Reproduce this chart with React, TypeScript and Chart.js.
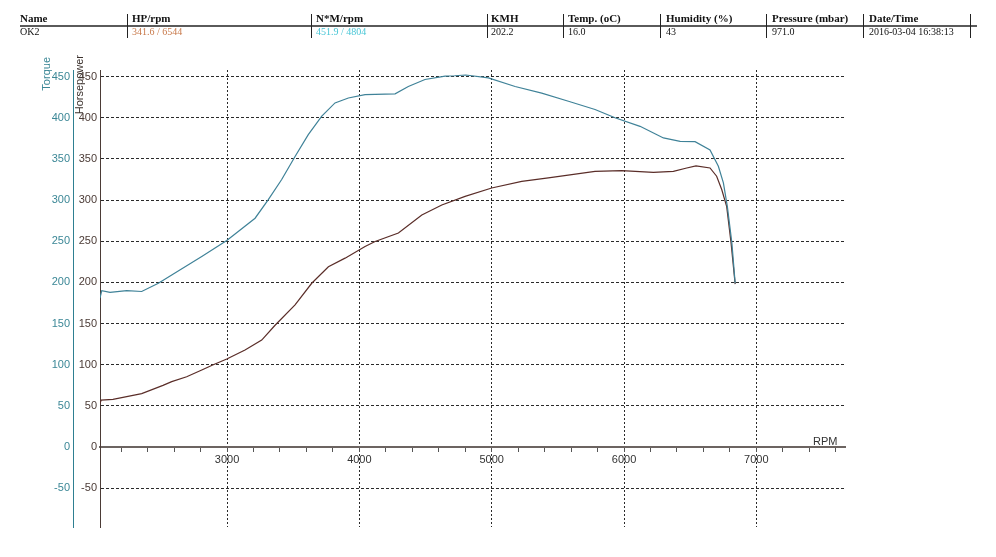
import React, { useEffect, useRef } from 'react';
import { Chart, registerables } from 'chart.js';

Chart.register(...registerables);

// ---- data ----
const RPM_TORQUE = [2040, 2053, 2116, 2242, 2355, 2481, 2582, 2809, 2998, 3212, 3312, 3413, 3514, 3614, 3716, 3816, 3917, 4043, 4270, 4370, 4496, 4648, 4720, 4804, 4975, 5177, 5378, 5580, 5781, 5932, 6121, 6298, 6424, 6537, 6650, 6713, 6751, 6781, 6815, 6840];
const TORQUE = [181, 190, 188, 190, 189, 199, 209, 231.5, 251, 278, 300.5, 325, 353, 379.5, 402, 418, 424, 428, 429, 438, 446.5, 450.5, 451, 451.9, 448.5, 438, 430, 420, 410, 400, 389.6, 375.5, 371.4, 371, 361, 341, 321, 292, 248, 199];

const RPM_HP = [2040, 2048, 2138, 2355, 2516, 2582, 2695, 2809, 2896, 2998, 3136, 3262, 3363, 3514, 3640, 3766, 3892, 4043, 4119, 4295, 4472, 4623, 4799, 5000, 5227, 5428, 5605, 5781, 5983, 6222, 6373, 6474, 6544, 6650, 6700, 6739, 6776, 6809, 6840];
const HP = [53, 57, 58, 65, 75, 79.5, 85.5, 93.7, 100, 107, 118, 130, 148, 172.7, 199, 219, 229.5, 243.7, 249.7, 260, 282, 294, 304.5, 314.7, 322.7, 327, 331, 335, 335.7, 333.7, 335, 339, 341.6, 339, 329, 312.6, 292, 248, 198];

const X_MIN = 2040;
const X_MAX = 7670;
// minor ticks every 200 rpm, labelled every 1000 rpm
const X_TICKS = [2200, 2400, 2600, 2800, 3000, 3200, 3400, 3600, 3800, 4000, 4200, 4400, 4600, 4800, 5000, 5200, 5400, 5600, 5800, 6000, 6200, 6400, 6600, 6800, 7000, 7200, 7400, 7600];
const X_LABELLED = [3000, 4000, 5000, 6000, 7000];
const Y_MIN = -97;
const Y_MAX = 458;
const Y_STEP = 50;

const HEADER_LABELS = ['Name', 'HP/rpm', 'N*M/rpm', 'KMH', 'Temp. (oC)', 'Humidity (%)', 'Pressure (mbar)', 'Date/Time'];
const HEADER_VALUES = ['OK2', '341.6 / 6544', '451.9 / 4804', '202.2', '16.0', '43', '971.0', '2016-03-04 16:38:13'];
const VALUE_COLORS = ['#111', '#c8794a', '#48c6d6', '#111', '#111', '#111', '#111', '#111'];

// layout of the header (positions only)
const COL_X = [20, 132, 316, 491, 568, 666, 772, 869];
const SEP_X = [127, 311, 487, 563, 660, 766, 863, 970];

const TORQUE_COLOR = '#3f8298';
const HP_COLOR = '#5a2d28';

const overlayPlugin = {
  id: 'overlayTexts',
  afterDraw(chart: any) {
    const { ctx, chartArea, scales } = chart;
    ctx.save();
    ctx.font = '11px "Liberation Sans", Arial, sans-serif';
    ctx.textBaseline = 'middle';
    ctx.textAlign = 'right';
    // Torque title
    ctx.save();
    ctx.fillStyle = '#3b8796';
    ctx.translate(scales.yT.right - 26, chartArea.top - 13);
    ctx.rotate(-Math.PI / 2);
    ctx.fillText('Torque', 0, 0);
    ctx.restore();
    // Horsepower title
    ctx.save();
    ctx.fillStyle = '#3a302c';
    ctx.translate(scales.yH.left + 7, chartArea.top - 15);
    ctx.rotate(-Math.PI / 2);
    ctx.fillText('Horsepower', 0, 0);
    ctx.restore();
    // RPM label
    const y0 = scales.yH.getPixelForValue(0);
    ctx.fillStyle = '#333';
    ctx.textAlign = 'left';
    ctx.textBaseline = 'alphabetic';
    ctx.fillText('RPM', chartArea.right - 32, y0 - 2);
    ctx.restore();
  },
};

export default function App() {
  const canvasRef = useRef<HTMLCanvasElement | null>(null);

  useEffect(() => {
    const canvas = canvasRef.current;
    if (!canvas) return;
    const tickFont = { family: '"Liberation Sans", Arial, sans-serif', size: 11 };
    const chart = new Chart(canvas, {
      type: 'line',
      data: {
        datasets: [
          {
            label: 'Torque',
            data: RPM_TORQUE.map((r, i) => ({ x: r, y: TORQUE[i] })),
            borderColor: TORQUE_COLOR,
            borderWidth: 1.2,
            pointRadius: 0,
            tension: 0,
            yAxisID: 'yT',
          },
          {
            label: 'Horsepower',
            data: RPM_HP.map((r, i) => ({ x: r, y: HP[i] })),
            borderColor: HP_COLOR,
            borderWidth: 1.2,
            pointRadius: 0,
            tension: 0,
            yAxisID: 'yH',
          },
        ],
      },
      options: {
        animation: false,
        responsive: false,
        maintainAspectRatio: false,
        layout: { padding: { left: 0, top: 70, right: 151, bottom: 30 } },
        plugins: { legend: { display: false }, tooltip: { enabled: false } },
        scales: {
          x: {
            type: 'linear',
            min: X_MIN,
            max: X_MAX,
            position: { yH: 0 } as any,
            afterBuildTicks: (s: any) => { s.ticks = X_TICKS.map((v) => ({ value: v })); },
            ticks: {
              autoSkip: false,
              maxRotation: 0,
              minRotation: 0,
              padding: 2,
              color: '#333',
              font: tickFont,
              callback: (v: any) => (X_LABELLED.includes(Number(v)) ? String(v) : ''),
            },
            grid: {
              color: (c: any) => (c.tick && X_LABELLED.includes(c.tick.value) ? '#2a2a2a' : 'rgba(0,0,0,0)'),
              lineWidth: 1,
              tickColor: '#555',
              tickWidth: 1,
              tickLength: 4,
            },
            border: { color: '#6c6461', width: 2, dash: [2, 2] },
          },
          yH: {
            type: 'linear',
            position: 'left',
            weight: 0,
            min: Y_MIN,
            max: Y_MAX,
            afterFit: (s: any) => { s.width = 27; },
            ticks: { stepSize: Y_STEP, includeBounds: false, padding: 3, color: '#4b3b36', font: tickFont },
            grid: { color: '#2a2a2a', lineWidth: 1, drawTicks: false },
            border: { color: '#4b3b36', width: 1, dash: [3, 2] },
          },
          yT: {
            type: 'linear',
            position: 'left',
            weight: 1,
            min: Y_MIN,
            max: Y_MAX,
            afterFit: (s: any) => { s.width = 73; },
            ticks: { stepSize: Y_STEP, includeBounds: false, padding: 3, color: '#3b8796', font: tickFont },
            grid: { display: false, drawTicks: false },
            border: { color: '#2e7f91', width: 1 },
          },
        },
      },
      plugins: [overlayPlugin],
    } as any);
    return () => chart.destroy();
  }, []);

  return (
    <div style={{ position: 'fixed', left: 0, top: 0, width: 996, height: 557, background: '#fff', overflow: 'hidden' }}>
      <canvas ref={canvasRef} width={996} height={557} style={{ position: 'absolute', left: 0, top: 0 }} />
      {HEADER_LABELS.map((t, i) => (
        <div key={'h' + i} style={{ position: 'absolute', left: COL_X[i], top: 13, font: 'bold 11px "Liberation Serif", "Times New Roman", serif', lineHeight: '11px', color: '#111', whiteSpace: 'nowrap' }}>{t}</div>
      ))}
      {HEADER_VALUES.map((t, i) => (
        <div key={'v' + i} style={{ position: 'absolute', left: COL_X[i], top: 27, font: '10px "Liberation Serif", "Times New Roman", serif', lineHeight: '10px', color: VALUE_COLORS[i], whiteSpace: 'nowrap' }}>{t}</div>
      ))}
      <div style={{ position: 'absolute', left: 20, top: 25, width: 957, height: 2, background: '#5a5a5a' }} />
      {SEP_X.map((x, i) => (
        <div key={'s' + i} style={{ position: 'absolute', left: x, top: 14, width: 1, height: 24, background: '#222' }} />
      ))}
    </div>
  );
}
